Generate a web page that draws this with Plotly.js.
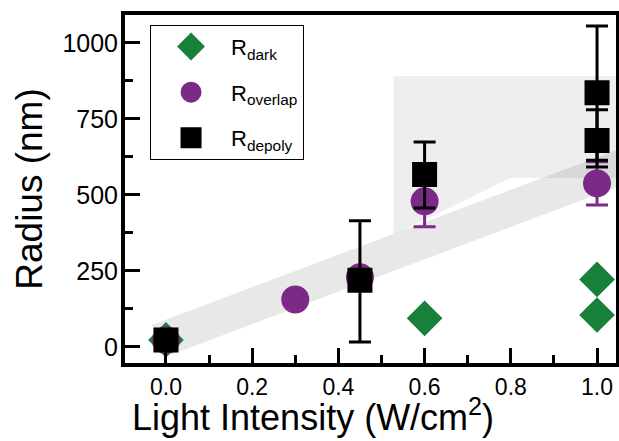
<!DOCTYPE html>
<html>
<head>
<meta charset="utf-8">
<script src="https://cdn.plot.ly/plotly-3.0.1.min.js"></script>
<style>html,body{margin:0;padding:0;background:#fff;}#chart{width:619px;height:441px;}</style>
</head>
<body>
<div id="chart"></div>
<script>
// ---- data ----
var darkX = [0, 0.6, 1.0, 1.0];
var darkY = [23, 94, 222, 105];

var overlapX = [0, 0.3, 0.45, 0.6, 1.0];
var overlapY = [22, 156, 229, 479, 538];
var overlapErr = [0, 0, 0, 84, 71];

var depolyX = [0, 0.45, 0.6, 1.0, 1.0];
var depolyY = [23, 219, 567, 836, 679];
var depolyErrPlus = [0, 196, 107, 220, 101];
var depolyErrMinus = [0, 203, 110, 222, 87];

var xTickVals = [0, 0.2, 0.4, 0.6, 0.8, 1.0];
var xTickText = ['0.0', '0.2', '0.4', '0.6', '0.8', '1.0'];
var xMinorVals = [0.1, 0.3, 0.5, 0.7, 0.9];
var yTickVals = [0, 250, 500, 750, 1000];
var yTickText = ['0', '250', '500', '750', '1000'];
var yMinorVals = [125, 375, 625, 875];

// shaded guide regions (data coordinates)
var bandX = [-0.033, 1.07, 1.07, 0.014];
var bandY = [72, 661, 539, -25];
var boxX = [0.528, 1.07, 1.07, 0.80, 0.528];
var boxY = [891, 891, 556, 556, 368];

var names = ['R<sub>dark</sub>', 'R<sub>overlap</sub>', 'R<sub>depoly</sub>'];
var green = '#17803b', purple = '#7b2a86', black = '#000000';

function polyPath(xs, ys) {
  var p = '';
  for (var i = 0; i < xs.length; i++) p += (i ? ' L ' : 'M ') + xs[i] + ',' + ys[i];
  return p + ' Z';
}

var traces = [
  {
    x: darkX, y: darkY, type: 'scatter', mode: 'markers', name: names[0], legendgroup: 'g1',
    marker: {symbol: 'diamond', size: 22, color: green, line: {color: green, width: 5}},
    cliponaxis: false
  },
  {
    x: overlapX, y: overlapY, type: 'scatter', mode: 'markers', name: names[1], legendgroup: 'g2',
    marker: {symbol: 'circle', size: 23, color: purple, line: {color: purple, width: 5}},
    error_y: {type: 'data', array: overlapErr, visible: true, color: purple, thickness: 3, width: 11}
  },
  {
    x: depolyX, y: depolyY, type: 'scatter', mode: 'markers', name: names[2], legendgroup: 'g3',
    marker: {symbol: 'square', size: 20, color: black, line: {color: black, width: 5}},
    error_y: {type: 'data', symmetric: false, array: depolyErrPlus, arrayminus: depolyErrMinus,
              visible: true, color: black, thickness: 3, width: 11}
  }
];

var font = 'Liberation Sans, Arial, Helvetica, sans-serif';

var layout = {
  width: 619, height: 441,
  margin: {l: 125, r: 3, t: 15, b: 78, pad: 0},
  paper_bgcolor: '#ffffff', plot_bgcolor: '#ffffff',
  font: {family: font, color: '#000'},
  showlegend: true,
  legend: {
    x: 0.051, y: 0.972, xanchor: 'left', yanchor: 'top',
    bgcolor: '#ffffff', bordercolor: '#000', borderwidth: 1,
    font: {family: font, size: 22, color: '#000'},
    itemwidth: 70, tracegroupgap: 14, entrywidth: 125
  },
  xaxis: {
    range: [-0.095, 1.044], tickvals: xTickVals, ticktext: xTickText,
    ticks: 'inside', ticklen: 15, tickwidth: 3, tickcolor: '#000',
    showline: true, linewidth: 4, linecolor: '#000', mirror: true,
    showgrid: false, zeroline: false,
    tickfont: {family: font, size: 23, color: '#000'},
    minor: {tickvals: xMinorVals, ticks: 'inside', ticklen: 8, tickwidth: 3, tickcolor: '#000', showgrid: false}
  },
  yaxis: {
    range: [-53, 1092], tickvals: yTickVals, ticktext: yTickText,
    ticks: 'inside', ticklen: 15, tickwidth: 3, tickcolor: '#000',
    showline: true, linewidth: 4, linecolor: '#000', mirror: true,
    showgrid: false, zeroline: false, ticklabelstandoff: -2,
    tickfont: {family: font, size: 25, color: '#000'},
    minor: {tickvals: yMinorVals, ticks: 'inside', ticklen: 8, tickwidth: 3, tickcolor: '#000', showgrid: false},
    title: {text: 'Radius (nm)', font: {family: font, size: 37, color: '#000'}, standoff: 9}
  },
  shapes: [
    {type: 'path', xref: 'x', yref: 'y', layer: 'below', path: polyPath(boxX, boxY),
     fillcolor: 'rgba(0,0,0,0.065)', line: {width: 0}},
    {type: 'path', xref: 'x', yref: 'y', layer: 'below', path: polyPath(bandX, bandY),
     fillcolor: 'rgba(0,0,0,0.09)', line: {width: 0}}
  ],
  annotations: [
    {text: 'Light Intensity (W/cm<sup>2</sup>)', xref: 'paper', yref: 'paper',
     x: 0.383, y: -0.150, xanchor: 'center', yanchor: 'middle', showarrow: false,
     font: {family: font, size: 36, color: '#000'}}
  ]
};

Plotly.newPlot('chart', traces, layout, {displayModeBar: false, staticPlot: true});
</script>
</body>
</html>
